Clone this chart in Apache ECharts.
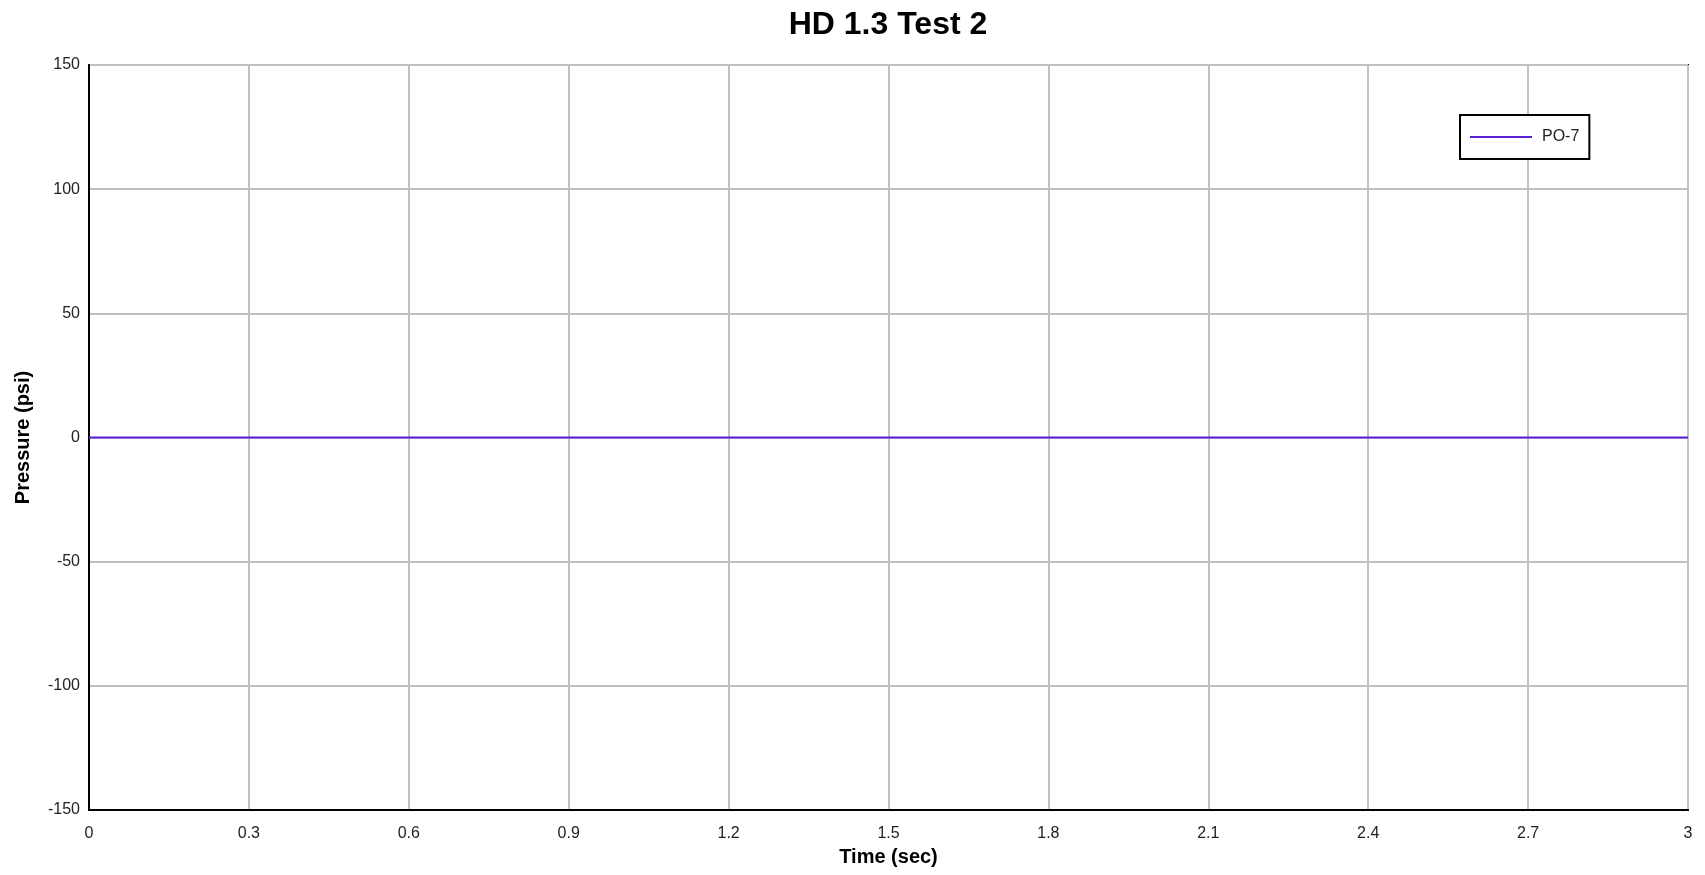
<!DOCTYPE html>
<html>
<head>
<meta charset="utf-8">
<script src="https://cdn.jsdelivr.net/npm/echarts@6/dist/echarts.min.js"></script>
<style>
html,body{margin:0;padding:0;background:#fff;}
#chart{width:1705px;height:875px;}
</style>
</head>
<body>
<div id="chart"></div>
<script>
const titleText = 'HD 1.3 Test 2';
const seriesName = 'PO-7';
const timeSec = [0, 0.3, 0.6, 0.9, 1.2, 1.5, 1.8, 2.1, 2.4, 2.7, 3];
const pressurePsi = [0, 0, 0, 0, 0, 0, 0, 0, 0, 0, 0];
const xAxisName = 'Time (sec)';
const yAxisName = 'Pressure (psi)';

const chart = echarts.init(document.getElementById('chart'), null, {renderer: 'canvas'});
const font = 'Liberation Sans, Arial, sans-serif';
const lineColor = '#5a1fd8';
chart.setOption({
  animation: false,
  backgroundColor: '#fff',
  title: {
    text: titleText,
    left: 888,
    top: 9,
    padding: 0,
    textAlign: 'center',
    textStyle: {fontFamily: font, fontSize: 32, fontWeight: 'bold', color: '#000'}
  },
  legend: {
    left: 1460,
    top: 115,
    orient: 'vertical',
    backgroundColor: '#fff',
    borderColor: '#000',
    borderWidth: 2,
    borderRadius: 0,
    padding: [13, 10, 13, 10],
    itemWidth: 62,
    itemHeight: 2,
    icon: 'rect',
    itemStyle: {color: lineColor},
    textStyle: {fontFamily: font, fontSize: 16, color: '#222', lineHeight: 18, padding: [0, 0, 0, 5]},
    data: [seriesName]
  },
  grid: {
    left: 89, right: 17, top: 65, bottom: 65,
    show: true, borderColor: '#000', borderWidth: 2,
    containLabel: false,
    outerBoundsMode: 'none'
  },
  xAxis: {
    type: 'value',
    min: 0, max: 3, interval: 0.3,
    name: xAxisName,
    nameLocation: 'middle',
    nameGap: 37,
    nameTextStyle: {fontFamily: font, fontSize: 20, fontWeight: 'bold', color: '#000'},
    axisLine: {show: true, onZero: false, lineStyle: {color: '#000', width: 2}},
    axisTick: {show: false},
    axisLabel: {fontFamily: font, fontSize: 16, color: '#222', margin: 16,
      formatter: v => String(Math.round(v * 10) / 10)},
    splitLine: {show: true, lineStyle: {color: '#c0c0c0', width: 2}}
  },
  yAxis: {
    type: 'value',
    min: -150, max: 150, interval: 50,
    name: yAxisName,
    nameLocation: 'middle',
    nameGap: 56,
    nameRotate: 90,
    nameTextStyle: {fontFamily: font, fontSize: 20, fontWeight: 'bold', color: '#000'},
    axisLine: {show: true, onZero: false, lineStyle: {color: '#000', width: 2}},
    axisTick: {show: false},
    axisLabel: {fontFamily: font, fontSize: 16, color: '#222', margin: 9},
    splitLine: {show: true, lineStyle: {color: '#c0c0c0', width: 2}}
  },
  series: [{
    name: seriesName,
    type: 'line',
    data: timeSec.map((t, i) => [t, pressurePsi[i]]),
    symbol: 'none',
    showSymbol: false,
    lineStyle: {color: lineColor, width: 2},
    itemStyle: {color: lineColor}
  }]
});
</script>
</body>
</html>
